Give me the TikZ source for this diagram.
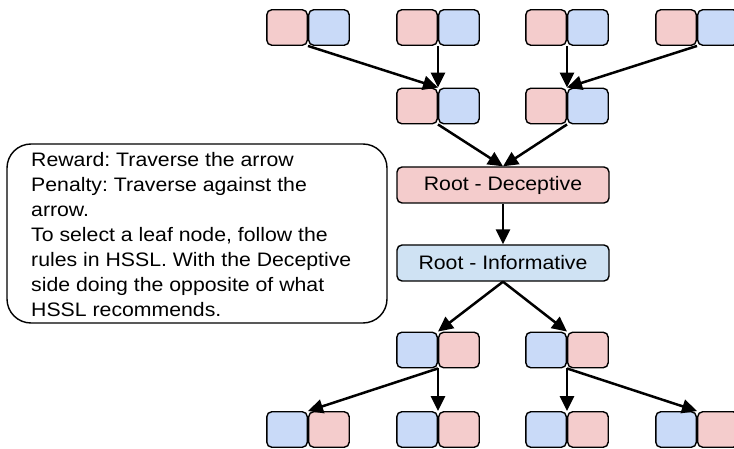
\documentclass[tikz,border=0pt]{standalone}
\usepackage{fontspec}
\setmainfont[FakeStretch=1.09]{Liberation Sans}
\usetikzlibrary{arrows.meta}
\definecolor{pinkf}{HTML}{F4CCCC}
\definecolor{bluef}{HTML}{C9DAF8}
\definecolor{bluer}{HTML}{CFE2F3}
\newcommand\sqpair[5]{%
  \node[sq,fill=#4,anchor=east] (#1l) at (#2,#3) {};
  \node[sq,fill=#5,anchor=west] (#1r) at (#2,#3) {};}
\frenchspacing
\begin{document}
\begin{tikzpicture}[x=1pt,y=-1pt,
  sq/.style={draw=black, line width=1.4pt, rounded corners=5pt, minimum width=40.5pt, minimum height=35.5pt, inner sep=0pt},
  rootbox/.style={draw=black, line width=1.4pt, rounded corners=5pt, minimum width=212pt, minimum height=36pt, inner sep=0pt, font=\fontsize{19.5pt}{23pt}\selectfont},
  notebox/.style={draw=black, line width=1.4pt, rounded corners=24pt, minimum width=380pt, minimum height=179pt, inner sep=0pt},
  notetext/.style={inner sep=0pt, align=left, font=\fontsize{19.5pt}{25pt}\selectfont},
  arr/.style={line width=2.5pt, -{Triangle[length=15pt,width=14pt]}}]
\useasboundingbox (0,0) rectangle (734,449);
\fill[white] (0,0) rectangle (734,449);
% top row
\sqpair{t1}{308}{27.5}{pinkf}{bluef}
\sqpair{t2}{438}{27.5}{pinkf}{bluef}
\sqpair{t3}{567}{27.5}{pinkf}{bluef}
\sqpair{t4}{697}{27.5}{pinkf}{bluef}
% middle row
\sqpair{m1}{438}{106}{pinkf}{bluef}
\sqpair{m2}{567}{106}{pinkf}{bluef}
% roots
\node[rootbox, fill=pinkf] (rd) at (503,185) {Root - Deceptive};
\node[rootbox, fill=bluer] (ri) at (503,263) {Root - Informative};
% lower rows
\sqpair{l1}{438}{350}{bluef}{pinkf}
\sqpair{l2}{567}{350}{bluef}{pinkf}
\sqpair{b1}{308}{429.5}{bluef}{pinkf}
\sqpair{b2}{438}{429.5}{bluef}{pinkf}
\sqpair{b3}{567}{429.5}{bluef}{pinkf}
\sqpair{b4}{697}{429.5}{bluef}{pinkf}
% note
\node[notebox] (note) at (197,233.5) {};
\node[notetext, anchor=north west] (notetxt) at (31,152) {Reward: Traverse the arrow\\
Penalty: Traverse against the\\
arrow.\\
To select a leaf node, follow the\\
rules in HSSL. With the Deceptive\\
side doing the opposite of what\\
HSSL recommends.};
% arrows
\draw[arr] (t1l.south east) -- (m1l.north east);
\draw[arr] (t2l.south east) -- (m1l.north east);
\draw[arr] (t3l.south east) -- (m2l.north east);
\draw[arr] (t4l.south east) -- (m2l.north east);
\draw[arr] (m1l.south east) -- (rd.north);
\draw[arr] (m2l.south east) -- (rd.north);
\draw[arr] (rd.south) -- (ri.north);
\draw[arr] (ri.south) -- (l1l.north east);
\draw[arr] (ri.south) -- (l2l.north east);
\draw[arr] (l1l.south east) -- (b1l.north east);
\draw[arr] (l1l.south east) -- (b2l.north east);
\draw[arr] (l2l.south east) -- (b3l.north east);
\draw[arr] (l2l.south east) -- (b4l.north east);
\end{tikzpicture}
\end{document}
